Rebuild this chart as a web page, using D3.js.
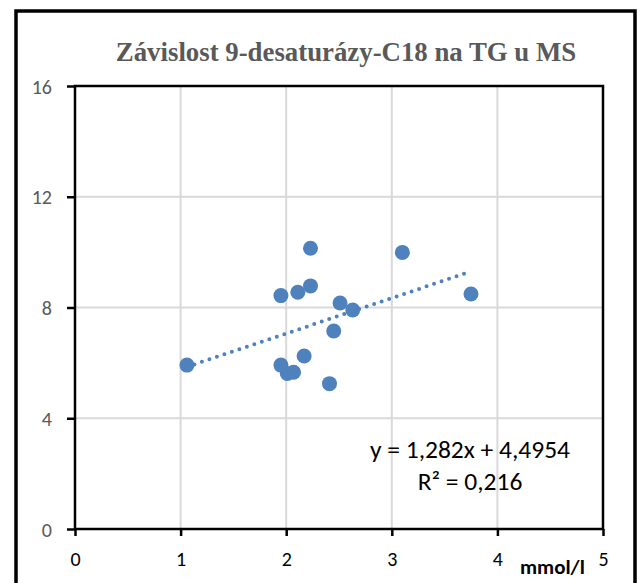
<!DOCTYPE html>
<html>
<head>
<meta charset="utf-8">
<script src="https://cdn.jsdelivr.net/npm/d3@7"></script>
<style>
  body { margin: 0; background: #fff; }
  svg { display: block; }
</style>
</head>
<body>
<div id="graph"></div>
<script>
// TG (mmol/l) vs 9-desaturase C18 index
var tgValues = [1.06, 1.95, 2.11, 2.23, 2.23, 3.10, 2.51, 2.63, 2.45, 2.17, 1.95, 2.01, 2.07, 2.41, 3.75];
var desatValues = [5.92, 8.43, 8.55, 8.78, 10.14, 9.99, 8.16, 7.91, 7.15, 6.25, 5.92, 5.62, 5.66, 5.25, 8.49];
var xTicks = [0, 1, 2, 3, 4, 5];
var yTicks = [0, 4, 8, 12, 16];
var slope = 1.282, intercept = 4.4954;
var titleText = "Závislost 9-desaturázy-C18 na TG u MS";
var eqText = "y = 1,282x + 4,4954";
var r2Text = "R² = 0,216";
var xUnit = "mmol/l";

var width = 643, height = 583;
var plotLeft = 75, plotRight = 603, plotTop = 86, plotBottom = 529;
var blue = "#4F81BD";
var bodyFont = "Calibri, Carlito, Lato, sans-serif";

var svg = d3.select("#graph").append("svg")
    .attr("width", width)
    .attr("height", height);

// outer chart border
svg.append("rect")
    .attr("x", 16).attr("y", 11)
    .attr("width", 619).attr("height", 600)
    .attr("fill", "none")
    .attr("stroke", "#000")
    .attr("stroke-width", 3.5);

svg.append("text")
    .attr("x", 346).attr("y", 61)
    .attr("text-anchor", "middle")
    .attr("font-family", "'Liberation Serif', 'Times New Roman', serif")
    .attr("font-weight", "bold")
    .attr("font-size", 26.8)
    .attr("fill", "#595959")
    .text(titleText);

var x = d3.scaleLinear().domain([0, 5]).range([plotLeft, plotRight]);
var y = d3.scaleLinear().domain([0, 16]).range([plotBottom, plotTop]);

// gridlines
svg.append("g")
    .selectAll("line")
    .data(xTicks.slice(1, -1))
    .enter().append("line")
    .attr("x1", d => x(d)).attr("x2", d => x(d))
    .attr("y1", plotTop).attr("y2", plotBottom)
    .attr("stroke", "#d9d9d9").attr("stroke-width", 2);

svg.append("g")
    .selectAll("line")
    .data(yTicks.slice(1, -1))
    .enter().append("line")
    .attr("x1", plotLeft).attr("x2", plotRight)
    .attr("y1", d => y(d)).attr("y2", d => y(d))
    .attr("stroke", "#d9d9d9").attr("stroke-width", 2);

// axes
var xAxis = svg.append("g")
    .attr("transform", "translate(0," + plotBottom + ")")
    .call(d3.axisBottom(x).tickValues(xTicks).tickSize(7).tickPadding(16).tickFormat(d3.format("d")));
var yAxis = svg.append("g")
    .attr("transform", "translate(" + plotLeft + ",0)")
    .call(d3.axisLeft(y).tickValues(yTicks).tickSize(8).tickPadding(15).tickFormat(d3.format("d")));

[xAxis, yAxis].forEach(function (g) {
    g.select(".domain").remove();
    g.selectAll("line").attr("stroke", "#000").attr("stroke-width", 2.5);
    g.selectAll("text")
        .attr("font-family", bodyFont)
        .attr("font-size", 20);
});
xAxis.selectAll("text").attr("fill", "#000");
yAxis.selectAll("text").attr("fill", "#595959").attr("dy", "0.35em");

// plot border
svg.append("rect")
    .attr("x", plotLeft).attr("y", plotTop)
    .attr("width", plotRight - plotLeft).attr("height", plotBottom - plotTop)
    .attr("fill", "none")
    .attr("stroke", "#000")
    .attr("stroke-width", 2.5);

// trendline
var xMin = d3.min(tgValues), xMax = d3.max(tgValues);
svg.append("line")
    .attr("x1", x(xMin)).attr("y1", y(slope * xMin + intercept))
    .attr("x2", x(xMax)).attr("y2", y(slope * xMax + intercept))
    .attr("stroke", blue)
    .attr("stroke-width", 4)
    .attr("stroke-linecap", "round")
    .attr("stroke-dasharray", "0 7.9");

// points
svg.append("g")
    .selectAll("circle")
    .data(tgValues)
    .enter().append("circle")
    .attr("cx", d => x(d))
    .attr("cy", (d, i) => y(desatValues[i]))
    .attr("r", 7.5)
    .attr("fill", blue);

svg.append("text")
    .attr("x", 470).attr("y", 458)
    .attr("text-anchor", "middle")
    .attr("font-family", bodyFont)
    .attr("font-size", 25.5)
    .attr("fill", "#000")
    .text(eqText);

svg.append("text")
    .attr("x", 470).attr("y", 490)
    .attr("text-anchor", "middle")
    .attr("font-family", bodyFont)
    .attr("font-size", 25.5)
    .attr("fill", "#000")
    .text(r2Text);

svg.append("text")
    .attr("x", 520).attr("y", 574)
    .attr("font-family", bodyFont)
    .attr("font-weight", "bold")
    .attr("font-size", 21)
    .attr("fill", "#000")
    .text(xUnit);
</script>
</body>
</html>
